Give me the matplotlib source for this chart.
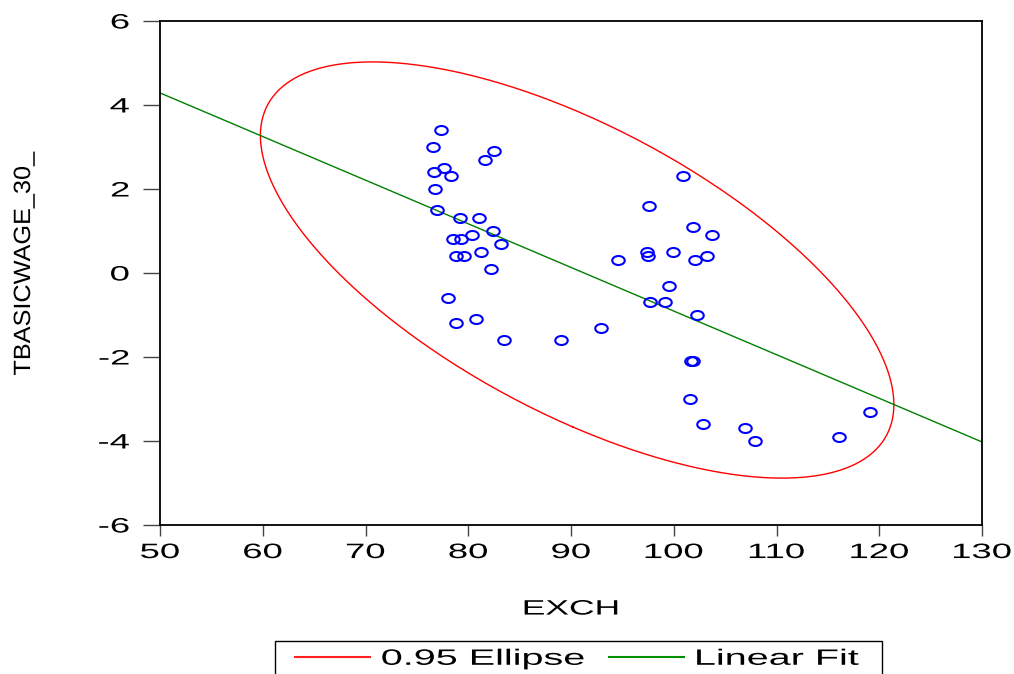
import numpy as np
import matplotlib
matplotlib.use("Agg")
import matplotlib.pyplot as plt
from matplotlib.path import Path
from matplotlib.transforms import Affine2D
from matplotlib.lines import Line2D
from matplotlib.patches import Rectangle
from matplotlib.patheffects import AbstractPathEffect

exch = [77.35, 76.6, 82.5, 81.6, 77.6, 76.7, 78.3, 76.8, 77.0, 79.2, 81.0, 82.4,
        80.4, 78.5, 79.3, 83.2, 81.2, 78.8, 79.6, 82.2, 78.0, 80.8, 78.8, 83.5,
        89.0, 92.9, 94.6, 97.4, 97.5, 97.6, 100.9, 101.9, 103.7, 99.9, 102.1,
        103.2, 99.5, 97.7, 99.1, 102.3, 101.7, 101.9, 101.6, 102.8, 106.9,
        107.9, 116.1, 119.1]
tbasicwage = [3.4, 3.0, 2.9, 2.7, 2.5, 2.4, 2.3, 2.0, 1.5, 1.3, 1.3, 1.0,
              0.9, 0.8, 0.8, 0.7, 0.5, 0.4, 0.4, 0.1, -0.6, -1.1, -1.2, -1.6,
              -1.6, -1.3, 0.3, 0.5, 0.4, 1.6, 2.3, 1.1, 0.9, 0.5, 0.3,
              0.4, -0.3, -0.7, -0.7, -1.0, -2.1, -2.1, -3.0, -3.6, -3.7,
              -4.0, -3.9, -3.3]
x_ticks = [50, 60, 70, 80, 90, 100, 110, 120, 130]
y_ticks = [-6, -4, -2, 0, 2, 4, 6]


class Stretch(AbstractPathEffect):
    """Stretch glyphs along the reading direction around an anchor."""
    def __init__(self, sx, anchor='center'):
        super().__init__()
        self.sx = sx
        self.anchor = anchor

    def draw_path(self, renderer, gc, tpath, affine, rgbFace=None):
        ext = tpath.get_extents()
        if self.anchor == 'left':
            a = ext.x0
        elif self.anchor == 'right':
            a = ext.x1
        else:
            a = 0.5 * (ext.x0 + ext.x1)
        t = Affine2D().translate(-a, 0).scale(self.sx, 1).translate(a, 0) + affine
        renderer.draw_path(gc, tpath, t, rgbFace)


plt.rcParams['font.family'] = ['Liberation Sans', 'DejaVu Sans']
plt.rcParams['axes.unicode_minus'] = False

fig = plt.figure(figsize=(10.14, 6.74), dpi=100)
ax = fig.add_axes([160/1014, 1-525/674, 822/1014, 504/674])

x = np.array(exch)
y = np.array(tbasicwage)

# 0.95 confidence ellipse (F-based scaling)
n = len(x)
mean = np.array([x.mean(), y.mean()])
cov = np.cov(x, y)
vals, vecs = np.linalg.eigh(cov)
fq = 3.20
k = np.sqrt(2 * (n - 1) / (n - 2) * fq)
t = np.linspace(0, 2*np.pi, 400)
circ = np.vstack([np.cos(t), np.sin(t)])
pts = vecs @ (np.sqrt(vals)[:, None] * circ) * k + mean[:, None]
ax.plot(pts[0], pts[1], color='#ff0000', lw=1.0)

# linear fit
b, a = np.polyfit(x, y, 1)
xl = np.array([50, 130])
ax.plot(xl, a + b*xl, color='#008000', lw=1.0)

marker = Path.unit_circle().transformed(Affine2D().scale(1.0, 0.72))
ax.plot(x, y, linestyle='none', marker=marker, markersize=9, markerfacecolor='none',
        markeredgecolor='#0000ff', markeredgewidth=1.5)

ax.set_xlim(50, 130)
ax.set_ylim(-6, 6)
ax.set_xticks(x_ticks)
ax.set_yticks(y_ticks)
ax.tick_params(axis='x', direction='out', length=8, width=1, labelsize=15, pad=5, color='#444444')
ax.tick_params(axis='y', direction='out', length=12, width=1, labelsize=15, pad=10, color='#444444')
for s in ax.spines.values():
    s.set_linewidth(1.3)

for lab in ax.get_xticklabels():
    lab.set_path_effects([Stretch(1.75, 'center')])
for lab in ax.get_yticklabels():
    lab.set_path_effects([Stretch(1.75, 'right')])

xl_ = ax.set_xlabel('EXCH', fontsize=15, labelpad=27)
xl_.set_path_effects([Stretch(1.7, 'center')])
yl_ = ax.set_ylabel('TBASICWAGE_30_', fontsize=17)
yl_.set_path_effects([Stretch(1.07, 'center')])
ax.yaxis.set_label_coords(-0.152, 0.518)

# legend
fig.patches.append(Rectangle((275/1014, -0.02), 607/1014, 0.02 + (674-641)/674,
                             transform=fig.transFigure, facecolor='white',
                             edgecolor='black', lw=1.0))
handles = [Line2D([], [], color='#ff2020', lw=1.5), Line2D([], [], color='#009000', lw=1.5)]
leg = fig.legend(handles, ['0.95 Ellipse', 'Linear Fit'], loc='upper left',
                 bbox_to_anchor=(287/1014, 1-641/674), ncol=2, fontsize=16,
                 frameon=False, handlelength=3.4, columnspacing=5.05,
                 borderpad=0.35, handletextpad=0.5, borderaxespad=0)
for txt in leg.get_texts():
    txt.set_path_effects([Stretch(1.78, 'left')])

fig.savefig('out.png', dpi=100)
